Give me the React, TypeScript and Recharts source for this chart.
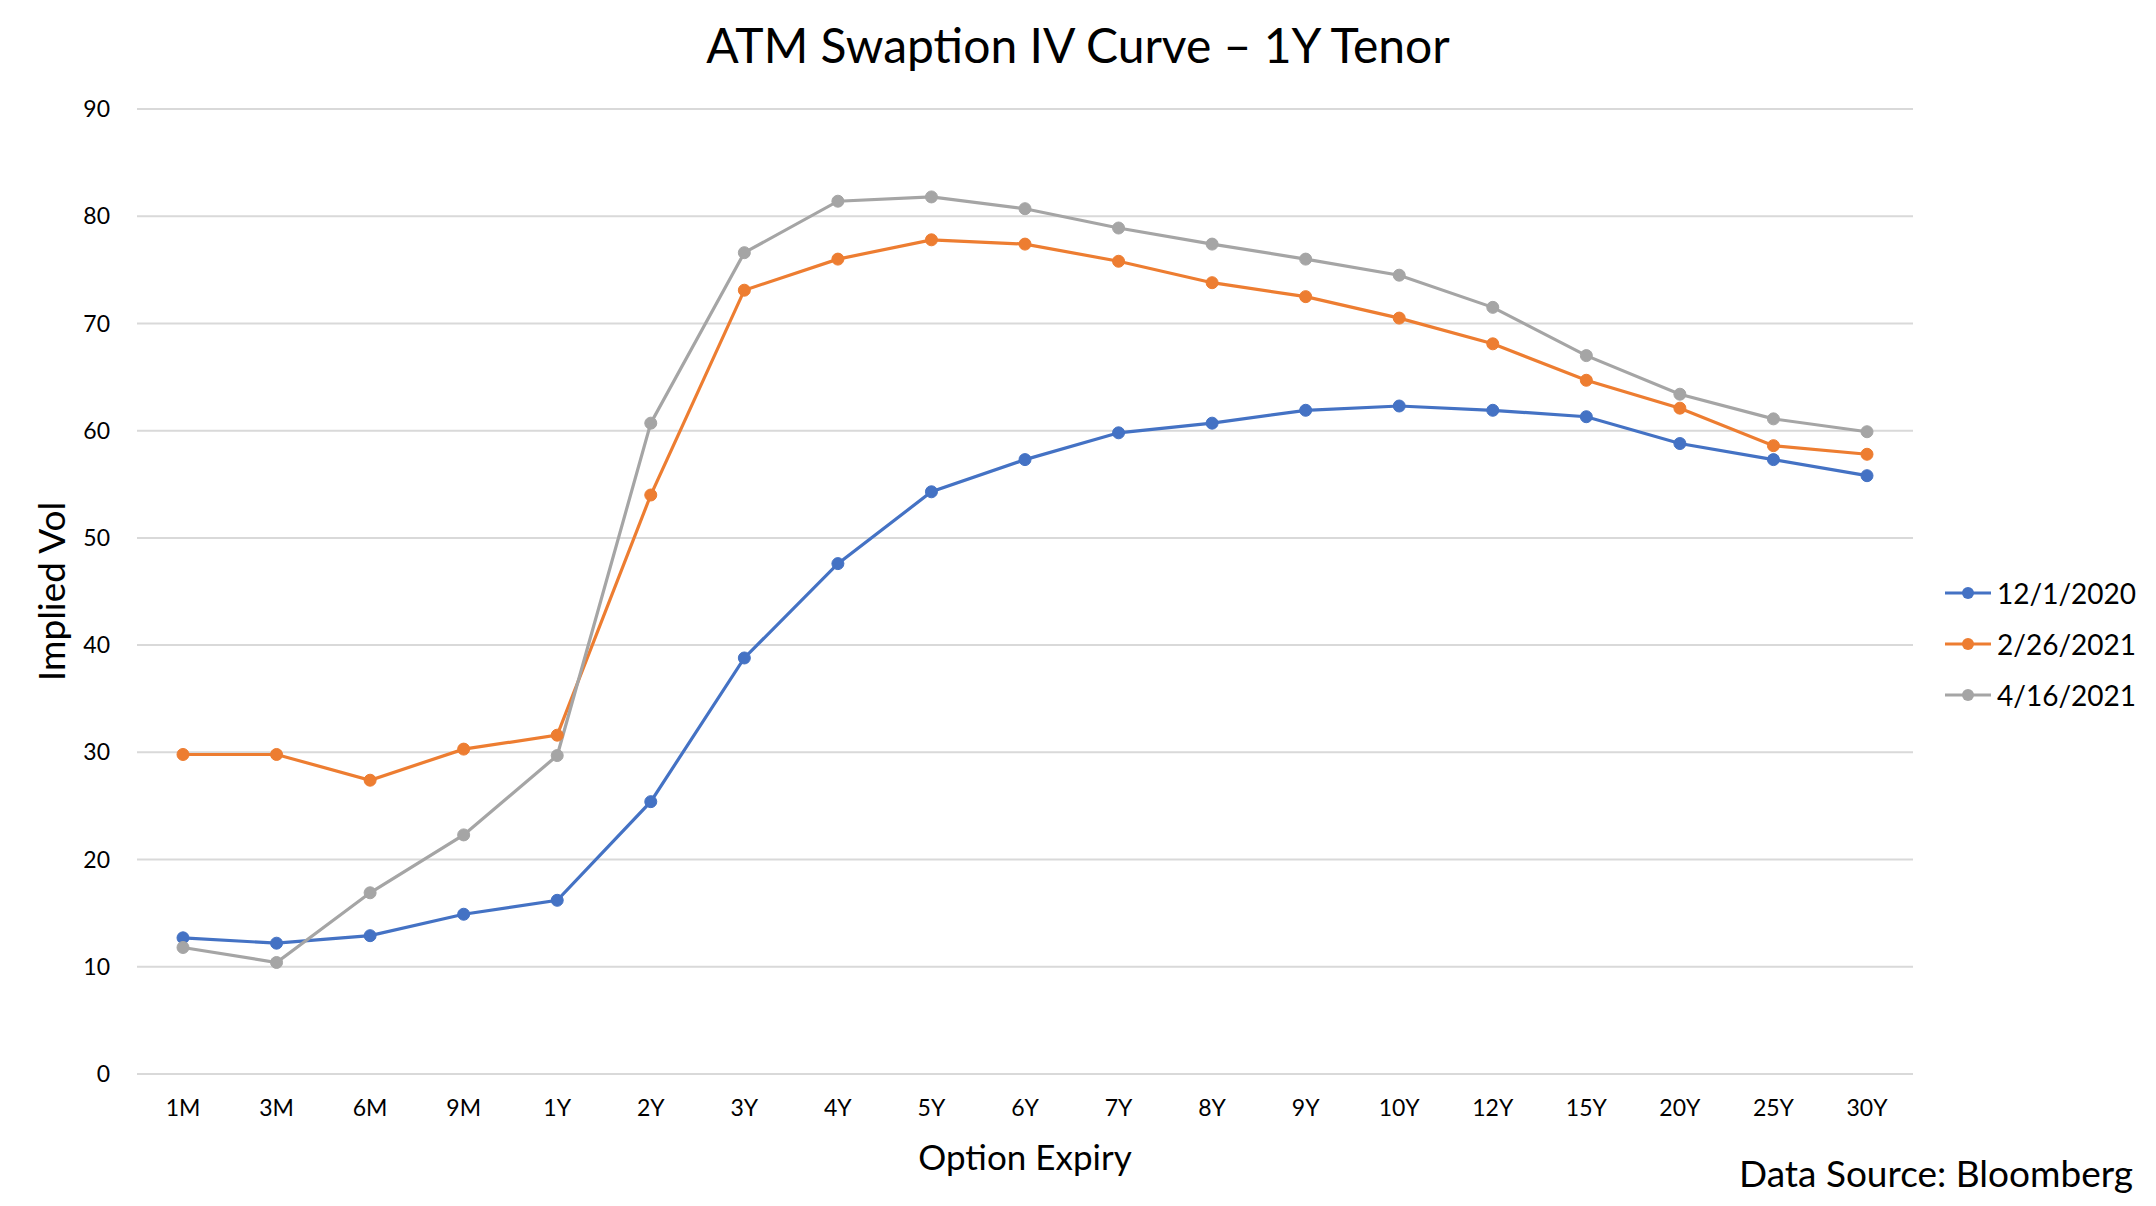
// ATM swaption implied vol curves, 1Y tenor, three snapshot dates.

import {
  CartesianGrid,
  Legend,
  Line,
  LineChart,
  XAxis,
  YAxis,
} from "recharts";

const expiries = [
  "1M", "3M", "6M", "9M", "1Y", "2Y", "3Y", "4Y", "5Y", "6Y",
  "7Y", "8Y", "9Y", "10Y", "12Y", "15Y", "20Y", "25Y", "30Y",
];

const vol20201201 = [
  12.7, 12.2, 12.9, 14.9, 16.2, 25.4, 38.8, 47.6, 54.3, 57.3,
  59.8, 60.7, 61.9, 62.3, 61.9, 61.3, 58.8, 57.3, 55.8,
];

const vol20210226 = [
  29.8, 29.8, 27.4, 30.3, 31.6, 54.0, 73.1, 76.0, 77.8, 77.4,
  75.8, 73.8, 72.5, 70.5, 68.1, 64.7, 62.1, 58.6, 57.8,
];

const vol20210416 = [
  11.8, 10.4, 16.9, 22.3, 29.7, 60.7, 76.6, 81.4, 81.8, 80.7,
  78.9, 77.4, 76.0, 74.5, 71.5, 67.0, 63.4, 61.1, 59.9,
];

const yTicks = [0, 10, 20, 30, 40, 50, 60, 70, 80, 90];

const series = [
  { key: "s1", name: "12/1/2020", color: "#4472C4", values: vol20201201 },
  { key: "s2", name: "2/26/2021", color: "#ED7D31", values: vol20210226 },
  { key: "s3", name: "4/16/2021", color: "#A5A5A5", values: vol20210416 },
];

const data = expiries.map((e, i) => ({
  expiry: e,
  s1: vol20201201[i],
  s2: vol20210226[i],
  s3: vol20210416[i],
}));

const FONT = "Lato, 'Open Sans', sans-serif";

function LegendBox({ payload }: any) {
  return (
    <div style={{ fontFamily: FONT, fontSize: 28, color: "#000" }}>
      {(payload || []).map((p: any) => (
        <div
          key={p.value}
          style={{ display: "flex", alignItems: "center", height: 51 }}
        >
          <svg width={46} height={14} style={{ marginRight: 6 }}>
            <line x1={0} y1={7} x2={46} y2={7} stroke={p.color} strokeWidth={3} />
            <circle cx={23} cy={7} r={6} fill={p.color} />
          </svg>
          <span>{p.value}</span>
        </div>
      ))}
    </div>
  );
}

export default function App() {
  return (
    <div
      style={{
        position: "absolute",
        left: 0,
        top: 0,
        width: 2156,
        height: 1206,
        background: "#fff",
        fontFamily: FONT,
      }}
    >
      <div
        style={{
          position: "absolute",
          left: 0,
          width: 2156,
          top: 16,
          textAlign: "center",
          fontSize: 48,
          color: "#000",
        }}
      >
        ATM Swaption IV Curve – 1Y Tenor
      </div>
      <LineChart
        width={2156}
        height={1206}
        data={data}
        margin={{ top: 109, right: 243, left: 27, bottom: 32 }}
      >
        <CartesianGrid vertical={false} stroke="#d9d9d9" strokeWidth={2} />
        <XAxis
          dataKey="expiry"
          height={100}
          padding={{ left: 46, right: 46 }}
          axisLine={{ stroke: "#d9d9d9", strokeWidth: 2 }}
          tickLine={false}
          tickSize={0}
          tickMargin={26}
          tick={{ fontSize: 23, fill: "#000", fontFamily: FONT }}
          label={{
            value: "Option Expiry",
            position: "insideBottom",
            offset: 4,
            style: { fontSize: 35, fill: "#000", fontFamily: FONT },
          }}
        />
        <YAxis
          width={110}
          domain={[0, 90]}
          ticks={yTicks}
          axisLine={false}
          tickLine={false}
          tickSize={0}
          tickMargin={27}
          tick={{ fontSize: 23, fill: "#000", fontFamily: FONT }}
          label={{
            value: "Implied Vol",
            angle: -90,
            position: "insideLeft",
            offset: 25,
            style: { fontSize: 37, fill: "#000", fontFamily: FONT, textAnchor: "middle" },
          }}
        />
        <Legend
          layout="vertical"
          align="center"
          verticalAlign="middle"
          content={<LegendBox />}
          wrapperStyle={{ left: 1945, top: 567, width: 210 }}
        />
        {series.map((s) => (
          <Line
            key={s.key}
            type="linear"
            dataKey={s.key}
            name={s.name}
            stroke={s.color}
            strokeWidth={3.2}
            dot={{ r: 6, fill: s.color, stroke: s.color, strokeWidth: 1 }}
            activeDot={false}
            isAnimationActive={false}
          />
        ))}
      </LineChart>
      <div
        style={{
          position: "absolute",
          right: 23,
          top: 1150,
          fontSize: 37,
          color: "#000",
          whiteSpace: "nowrap",
        }}
      >
        Data Source: Bloomberg
      </div>
    </div>
  );
}
